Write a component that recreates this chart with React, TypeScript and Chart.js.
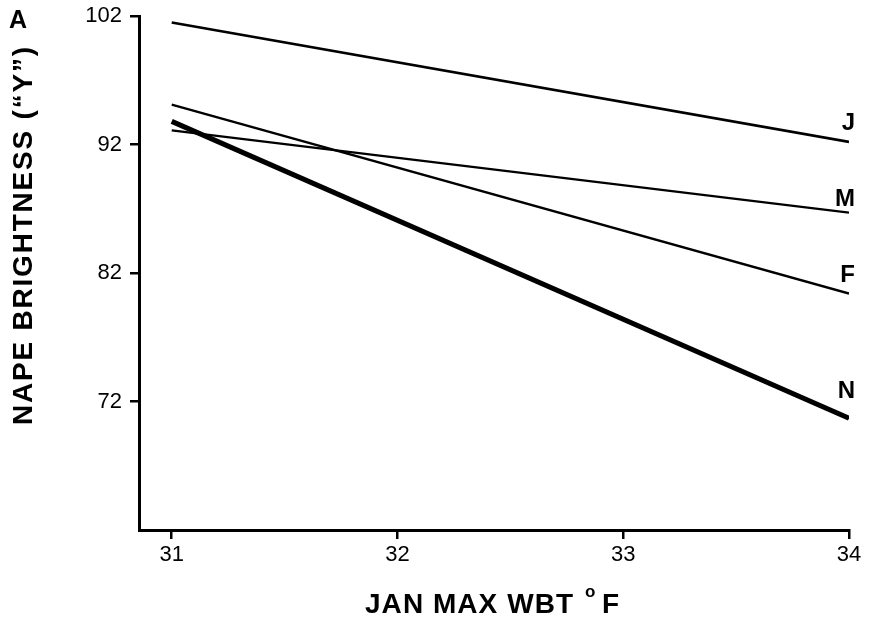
import React, { useEffect, useRef } from "react";
import { Chart, registerables } from "chart.js";
Chart.register(...registerables);

const xValues = [31, 34];
const seriesNames = ["J", "M", "F", "N"];
const seriesJ = [101.5, 92.2];
const seriesM = [93.1, 86.7];
const seriesF = [95.1, 80.4];
const seriesN = [93.8, 70.7];
const labelY = [93.65, 87.7, 81.85, 72.8];
const yTicks = [72, 82, 92, 102];
const xTicks = [31, 32, 33, 34];
const yTitle = "NAPE BRIGHTNESS (\u201CY\u201D)";
const xTitle = "JAN MAX WBT";
const panelLabel = "A";

const allSeries = [seriesJ, seriesM, seriesF, seriesN];
const widths = [2.6, 2.3, 2.3, 5];
const FONT = "'Liberation Sans', Arial, sans-serif";

export default function App() {
  const ref = useRef<HTMLCanvasElement>(null);
  useEffect(() => {
    const labelsPlugin = {
      id: "labels",
      afterDraw(chart: any) {
        const ctx = chart.ctx;
        const xs = chart.scales.x;
        const ys = chart.scales.y;
        ctx.save();
        ctx.fillStyle = "#000";
        ctx.font = `bold 24px ${FONT}`;
        ctx.textAlign = "right";
        ctx.textBaseline = "middle";
        seriesNames.forEach((n, i) => {
          ctx.fillText(n, xs.getPixelForValue(34) + 6, ys.getPixelForValue(labelY[i]));
        });
        // x title
        ctx.textAlign = "left";
        ctx.textBaseline = "alphabetic";
        ctx.font = `bold 28px ${FONT}`;
        const w = ctx.measureText(xTitle).width;
        (ctx as any).letterSpacing = `${Math.max(0, (208 - w) / (xTitle.length - 1))}px`;
        ctx.fillText(xTitle, 365, 613);
        (ctx as any).letterSpacing = "0px";
        ctx.fillText("F", 602, 613);
        ctx.font = `bold 17px ${FONT}`;
        ctx.fillText("o", 585, 597);
        // y title
        ctx.save();
        ctx.translate(32, 425);
        ctx.rotate(-Math.PI / 2);
        ctx.font = `bold 28px ${FONT}`;
        const wy = ctx.measureText(yTitle).width;
        (ctx as any).letterSpacing = `${(378 - wy) / (yTitle.length - 1)}px`;
        ctx.textAlign = "left";
        ctx.fillText(yTitle, 0, 0);
        ctx.restore();
        (ctx as any).letterSpacing = "0px";
        ctx.font = `bold 25px ${FONT}`;
        ctx.textAlign = "center";
        ctx.fillText(panelLabel, 18, 28);
        ctx.restore();
      },
    };
    const chart = new Chart(ref.current!, {
      type: "scatter",
      data: {
        datasets: allSeries.map((s, i) => ({
          label: seriesNames[i],
          data: xValues.map((x, j) => ({ x, y: s[j] })),
          showLine: true,
          borderColor: "#000",
          borderWidth: widths[i],
          pointRadius: 0,
          fill: false,
        })),
      },
      options: {
        animation: false,
        responsive: false,
        maintainAspectRatio: false,
        layout: { padding: { left: 0, top: 16, right: 21, bottom: 0 } },
        plugins: { legend: { display: false }, tooltip: { enabled: false } },
        scales: {
          x: {
            type: "linear",
            min: 30.855,
            max: 34,
            afterBuildTicks: (s: any) => {
              s.ticks = xTicks.map((v) => ({ value: v }));
            },
            afterFit: (s: any) => {
              s.height = 90;
              s.paddingLeft = 0;
              s.paddingRight = 0;
            },
            grid: { drawOnChartArea: false, drawTicks: true, tickLength: 9, color: "#000", lineWidth: 2.5 },
            border: { color: "#000", width: 3 },
            ticks: { color: "#000", padding: 3, font: { size: 22, family: FONT } },
          },
          y: {
            type: "linear",
            min: 62,
            max: 102,
            afterBuildTicks: (s: any) => {
              s.ticks = yTicks.map((v) => ({ value: v }));
            },
            afterFit: (s: any) => {
              s.width = 139;
              s.paddingTop = 0;
              s.paddingBottom = 0;
            },
            grid: { drawOnChartArea: false, drawTicks: true, tickLength: 9, color: "#000", lineWidth: 2.5 },
            border: { color: "#000", width: 3 },
            ticks: { color: "#000", padding: 8, font: { size: 22, family: FONT } },
          },
        },
      },
      plugins: [labelsPlugin],
    });
    return () => chart.destroy();
  }, []);
  return (
    <div style={{ position: "fixed", left: 0, top: 0, width: 870, height: 620, background: "#fff" }}>
      <canvas ref={ref} width={870} height={620} style={{ width: 870, height: 620 }} />
    </div>
  );
}
